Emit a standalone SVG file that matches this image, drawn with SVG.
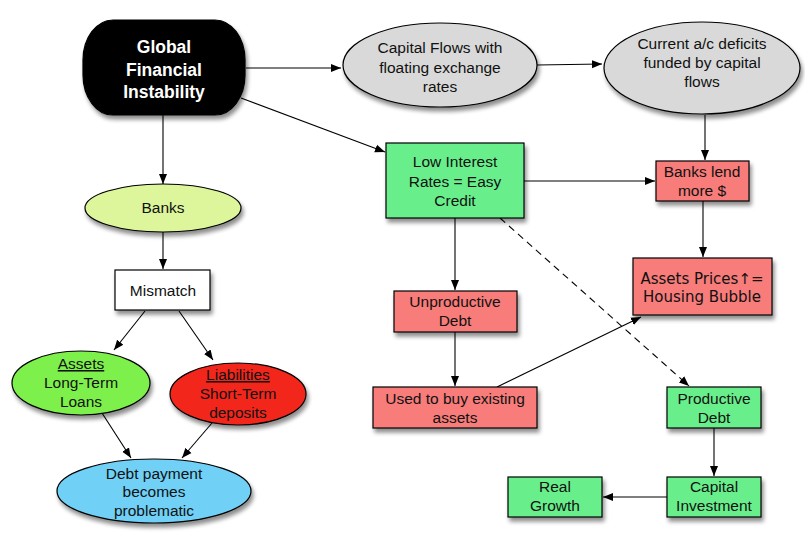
<svg xmlns="http://www.w3.org/2000/svg" width="805" height="534" viewBox="0 0 805 534">
<defs>
<filter id="sh" x="-20%" y="-20%" width="150%" height="160%">
<feGaussianBlur in="SourceAlpha" stdDeviation="2"/>
<feOffset dx="2" dy="4" result="b"/>
<feComponentTransfer><feFuncA type="linear" slope="0.45"/></feComponentTransfer>
<feMerge><feMergeNode/><feMergeNode in="SourceGraphic"/></feMerge>
</filter>
<marker id="ah" viewBox="0 0 10 10" refX="10" refY="5" markerWidth="10" markerHeight="10" markerUnits="userSpaceOnUse" orient="auto">
<path d="M0,1 L10,5 L0,9 z" fill="#000"/>
</marker>
</defs>
<style>
text{font-family:"Liberation Sans",Arial,sans-serif;font-size:15.5px;fill:#111;text-anchor:middle}
.w{fill:#fff;font-weight:bold;font-size:17.5px}
.l{font-family:"DejaVu Sans",sans-serif;font-size:15px}
.n{stroke:#000;stroke-width:1.2;filter:url(#sh)}
.g{fill:#68ef8c}
.p{fill:#f77b7a}
.gr{fill:#d9d9d9}
.c{stroke:#000;stroke-width:1.1;fill:none;marker-end:url(#ah)}
.u{text-decoration:underline}
</style>
<rect width="805" height="534" fill="#fff"/>
<g id="connectors">
<line class="c" x1="163" y1="115" x2="163" y2="184"/>
<line class="c" x1="163" y1="232" x2="163" y2="269"/>
<line class="c" x1="145" y1="311" x2="114" y2="350"/>
<line class="c" x1="179" y1="311" x2="213" y2="360"/>
<line class="c" x1="102" y1="413" x2="131" y2="458"/>
<line class="c" x1="212" y1="423" x2="182" y2="458"/>
<line class="c" x1="246" y1="68" x2="341" y2="68"/>
<line class="c" x1="537" y1="65" x2="602" y2="64"/>
<line class="c" x1="241" y1="98" x2="385" y2="152"/>
<line class="c" x1="524" y1="181" x2="655" y2="181"/>
<line class="c" x1="705" y1="115" x2="705" y2="160"/>
<line class="c" x1="703" y1="201" x2="703" y2="257"/>
<line class="c" x1="455" y1="218" x2="455" y2="290"/>
<line class="c" x1="500" y1="218" x2="689" y2="386" stroke-dasharray="7,5"/>
<line class="c" x1="455" y1="332" x2="455" y2="386"/>
<line class="c" x1="497" y1="387" x2="641" y2="317"/>
<line class="c" x1="714" y1="428" x2="714" y2="476"/>
<line class="c" x1="667" y1="497" x2="603" y2="497"/>
</g>
<g id="gfi">
<rect class="n" x="83" y="20" width="162" height="95" rx="30" ry="40" fill="#000"/>
<text class="w" x="164" y="53">Global</text>
<text class="w" x="164" y="76">Financial</text>
<text class="w" x="164" y="98">Instability</text>
</g>
<g id="capflows">
<ellipse class="n gr" cx="440" cy="65" rx="97" ry="42"/>
<text x="440" y="53">Capital Flows with</text>
<text x="440" y="73">floating exchange</text>
<text x="440" y="92">rates</text>
</g>
<g id="currentac">
<ellipse class="n gr" cx="702" cy="68" rx="98" ry="46"/>
<text x="702" y="49">Current a/c deficits</text>
<text x="702" y="68">funded by capital</text>
<text x="702" y="87">flows</text>
</g>
<g id="lowinterest">
<rect class="n g" x="386" y="143" width="138" height="75"/>
<text x="455" y="167">Low Interest</text>
<text x="455" y="187">Rates = Easy</text>
<text x="455" y="206">Credit</text>
</g>
<g id="bankslend">
<rect class="n p" x="656" y="161" width="93" height="40"/>
<text x="702" y="177">Banks lend</text>
<text x="702" y="196">more $</text>
</g>
<g id="assetprices">
<rect class="n p" x="633" y="258" width="139" height="57"/>
<text class="l" x="702" y="284">Assets Prices↑=</text>
<text class="l" x="702" y="302">Housing Bubble</text>
</g>
<g id="unproductive">
<rect class="n p" x="394" y="291" width="123" height="41"/>
<text x="455" y="307">Unproductive</text>
<text x="455" y="326">Debt</text>
</g>
<g id="usedtobuy">
<rect class="n p" x="373" y="387" width="164" height="41"/>
<text x="455" y="404">Used to buy existing</text>
<text x="455" y="423">assets</text>
</g>
<g id="productive">
<rect class="n g" x="667" y="387" width="94" height="41"/>
<text x="714" y="404">Productive</text>
<text x="714" y="423">Debt</text>
</g>
<g id="capinvest">
<rect class="n g" x="667" y="477" width="94" height="40"/>
<text x="714" y="492">Capital</text>
<text x="714" y="511">Investment</text>
</g>
<g id="realgrowth">
<rect class="n g" x="508" y="477" width="94" height="40"/>
<text x="555" y="492">Real</text>
<text x="555" y="511">Growth</text>
</g>
<g id="banks">
<ellipse class="n" cx="163" cy="208" rx="78" ry="24" fill="#ddf69b"/>
<text x="163" y="213">Banks</text>
</g>
<g id="mismatch">
<rect class="n" x="115" y="270" width="95" height="40" fill="#fff"/>
<text x="163" y="296">Mismatch</text>
</g>
<g id="assets">
<ellipse class="n" cx="81" cy="383" rx="69" ry="32" fill="#7ef04c"/>
<text class="u" x="81" y="369">Assets</text>
<text x="81" y="388">Long-Term</text>
<text x="81" y="407">Loans</text>
</g>
<g id="liabilities">
<ellipse class="n" cx="238" cy="394" rx="68" ry="31" fill="#f3261e"/>
<text class="u" x="238" y="380">Liabilities</text>
<text x="238" y="399">Short-Term</text>
<text x="238" y="418">deposits</text>
</g>
<g id="debtpayment">
<ellipse class="n" cx="154" cy="491" rx="97" ry="32" fill="#6fd0f6"/>
<text x="154" y="479">Debt payment</text>
<text x="154" y="497">becomes</text>
<text x="154" y="516">problematic</text>
</g>
</svg>
